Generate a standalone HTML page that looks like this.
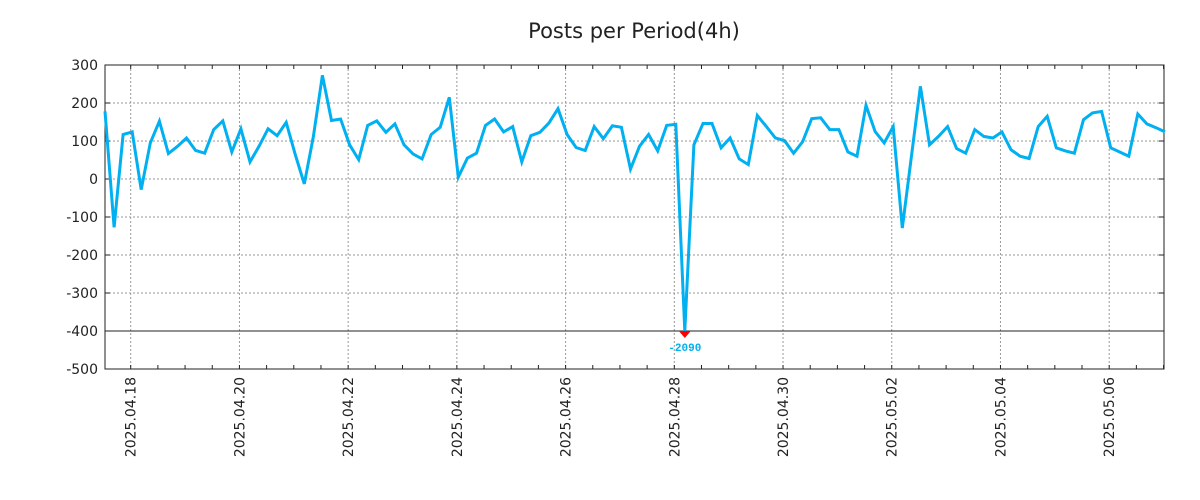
<!DOCTYPE html>
<html><head><meta charset="utf-8"><style>
body{margin:0;background:#fff;}
svg{display:block;font-family:"DejaVu Sans","Liberation Sans",sans-serif;}
</style></head><body>
<svg id="chart" width="1200" height="500">
<text x="634" y="38" text-anchor="middle" font-size="21" fill="#222">Posts per Period(4h)</text>
<g id="grid"></g>
<g id="axes"></g>
<g id="series"></g>
</svg>
<script>
const values = [178,-127,117,124,-28,95,152,67,86,108,75,68,130,153,71,132,45,86,132,114,149,64,-13,112,273,154,158,90,51,141,153,123,145,90,66,53,117,136,215,5,
55,68,141,158,124,138,45,114,123,147,185,117,83,75,138,106,140,136,26,86,117,74,141,144,-2090,90,146,146,82,108,53,38,167,138,108,101,68,
98,159,161,130,130,71,60,194,125,95,138,-129,57,244,90,112,138,80,68,130,112,108,124,77,60,54,138,165,82,74,68,156,174,178,82,71,60,171,145,135,124];
const yTicks = [300,200,100,0,-100,-200,-300,-400,-500];
const dateLabels = ["2025.04.18","2025.04.20","2025.04.22","2025.04.24","2025.04.26","2025.04.28","2025.04.30","2025.05.02","2025.05.04","2025.05.06"];
const firstDateHour = 11.35; // hours from first sample to first label
const stepHours = 4;

const L=105,R=1164,T=65,B=369,yMin=-500,yMax=300,clipMin=-400;
const hoursSpan=(1164-105)/9.06*4;
const xs=h=>L+h/hoursSpan*(R-L);
const ys=v=>B-(v-yMin)/(yMax-yMin)*(B-T);
const NS="http://www.w3.org/2000/svg";
function mk(tag,attrs,parent){const e=document.createElementNS(NS,tag);for(const k in attrs)e.setAttribute(k,attrs[k]);parent.appendChild(e);return e;}
const grid=document.getElementById('grid'),axes=document.getElementById('axes'),series=document.getElementById('series');

yTicks.forEach(v=>{
  const y=ys(v);
  if(v!==yMin&&v!==yMax&&v!==clipMin){const g=mk('line',{x1:L,x2:R,y1:y,y2:y,stroke:'#999','stroke-dasharray':'2,2','stroke-width':1},grid);
  
  }
  const t=mk('text',{x:L-7,y:y+5,'text-anchor':'end','font-size':14,fill:'#222'},axes);t.textContent=v;
  
  
  mk('line',{x1:L,x2:L+5,y1:y,y2:y,stroke:'#222'},axes);
  mk('line',{x1:R,x2:R-5,y1:y,y2:y,stroke:'#222'},axes);
});
const cl=mk('line',{x1:L,x2:R,y1:ys(clipMin),y2:ys(clipMin),stroke:'#222','stroke-width':1},axes);



dateLabels.forEach((d,i)=>{
  const x=xs(firstDateHour+48*i);
  const g=mk('line',{x1:x,x2:x,y1:T,y2:B,stroke:'#999','stroke-dasharray':'2,2'},grid);
  
  
  const t=mk('text',{x:0,y:0,'text-anchor':'end','font-size':14,fill:'#222',transform:`translate(${x+5},377) rotate(-90)`},axes);t.textContent=d;
  
  
});
for(let h=firstDateHour-12;h<hoursSpan;h+=12){ if(h<0)continue; const x=xs(h);
  mk('line',{x1:x,x2:x,y1:B,y2:B-4,stroke:'#222'},axes);mk('line',{x1:x,x2:x,y1:T,y2:T+4,stroke:'#222'},axes);}
const fr=mk('rect',{x:L,y:T,width:R-L,height:B-T,fill:'none',stroke:'#222','stroke-width':1},axes);



const pts=values.map((v,i)=>xs(i*stepHours).toFixed(1)+','+ys(Math.max(v,clipMin)).toFixed(1)).join(' ');
const line=mk('polyline',{points:pts,fill:'none',stroke:'#00b0f0','stroke-width':3,'stroke-linejoin':'miter'},series);


values.forEach((v,i)=>{ if(v<clipMin){ const x=xs(i*stepHours),y=ys(clipMin);
  const m=mk('polygon',{points:`${x-6},${y} ${x+6},${y} ${x},${y+7}`,fill:'#f00'},series);
  
  
  const t=mk('text',{x:x,y:y+20,'text-anchor':'middle','font-size':11,'font-weight':'bold','font-family':'Liberation Mono, monospace',fill:'#00b0f0'},series);t.textContent=v;
  
  
}});
</script>
</body></html>
